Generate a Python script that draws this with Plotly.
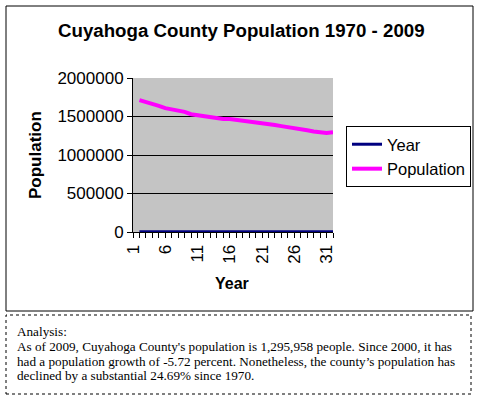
import plotly.graph_objects as go

# ---- data ----
categories = list(range(1, 33))
point_index = list(range(2, 33))
years = [1970, 1980] + list(range(1981, 2010))
population = [1712000, 1690000, 1668000, 1638000, 1608000, 1592000, 1580000, 1560000,
              1530000, 1515000, 1500000, 1485000, 1472000, 1468000, 1466000, 1455000,
              1442000, 1435000, 1425000, 1413000, 1410000, 1390000, 1375000, 1364000,
              1350000, 1346000, 1322000, 1305000, 1296000, 1285000, 1296000]
x_tick_labels = [str(c) if (c - 1) % 5 == 0 else "" for c in categories]
y_ticks = [0, 500000, 1000000, 1500000, 2000000]

title_text = "Cuyahoga County Population 1970 - 2009"
analysis_lines = [
    "Analysis:",
    "As of 2009, Cuyahoga County's population is 1,295,958 people. Since 2000, it has",
    "had a population growth of -5.72 percent. Nonetheless, the county’s population has",
    "declined by a substantial 24.69% since 1970.",
]

W, H = 480, 396
def px(x):
    return x / W
def py(y):
    return 1 - y / H

SANS = "Liberation Sans, Arial, sans-serif"
SERIF = "Liberation Serif, Times New Roman, serif"

fig = go.Figure()
fig.add_trace(go.Scatter(x=point_index, y=years, mode="lines", name="Year",
                         line=dict(color="#000080", width=3)))
fig.add_trace(go.Scatter(x=point_index, y=population, mode="lines", name="Population",
                         line=dict(color="#FF00FF", width=4)))

fig.update_layout(
    width=W, height=H,
    margin=dict(l=0, r=0, t=0, b=0, autoexpand=False),
    paper_bgcolor="white",
    plot_bgcolor="#C4C4C4",
    font=dict(family=SANS, size=16, color="black"),
    showlegend=True,
    legend=dict(x=px(346), y=py(126), xanchor="left", yanchor="top",
                bordercolor="black", borderwidth=1, bgcolor="white",
                font=dict(family=SANS, size=16.5), tracegroupgap=0,
                itemwidth=30),
    xaxis=dict(domain=[px(133), px(333)], range=[1, 32],
               tickmode="array", tickvals=categories, ticktext=x_tick_labels,
               tickangle=-90, ticks="outside", ticklen=5, tickcolor="black",
               showline=True, linecolor="black", linewidth=1,
               showgrid=False, zeroline=False, automargin=False,
               tickfont=dict(family=SANS, size=17)),
    yaxis=dict(domain=[py(232), py(78)], range=[0, 2000000],
               tickmode="array", tickvals=y_ticks, ticktext=[str(v) for v in y_ticks],
               ticks="outside", ticklen=5, tickcolor="black",
               showline=True, linecolor="black", linewidth=1,
               showgrid=True, gridcolor="black", gridwidth=1,
               zeroline=False, automargin=False,
               tickfont=dict(family=SANS, size=17)),
)

annotations = [
    dict(text="<b>" + title_text + "</b>", x=px(241), y=py(30), xref="paper", yref="paper",
         showarrow=False, xanchor="center", yanchor="middle",
         font=dict(family=SANS, size=18.7)),
    dict(text="<b>Population</b>", x=px(35), y=py(155), xref="paper", yref="paper",
         showarrow=False, textangle=-90, xanchor="center", yanchor="middle",
         font=dict(family=SANS, size=17)),
    dict(text="<b>Year</b>", x=px(232), y=py(283), xref="paper", yref="paper",
         showarrow=False, xanchor="center", yanchor="middle",
         font=dict(family=SANS, size=16)),
]
line_y = [331.5, 346.5, 361, 375.5]
for t, yy in zip(analysis_lines, line_y):
    annotations.append(dict(text=t, x=px(15), y=py(yy), xref="paper", yref="paper",
                            showarrow=False, xanchor="left", yanchor="middle",
                            font=dict(family=SERIF, size=13.2)))
fig.update_layout(annotations=annotations)

fig.add_shape(type="rect", xref="paper", yref="paper",
              x0=px(6), x1=px(473), y0=py(311), y1=py(6),
              line=dict(color="black", width=1))
fig.add_shape(type="rect", xref="paper", yref="paper",
              x0=px(6), x1=px(471), y0=py(394), y1=py(315),
              line=dict(color="black", width=1, dash="dot"))

fig.write_html("out.html",
               config={"displayModeBar": False},
               post_script="document.body.style.margin='0';document.body.style.overflow='hidden';")
